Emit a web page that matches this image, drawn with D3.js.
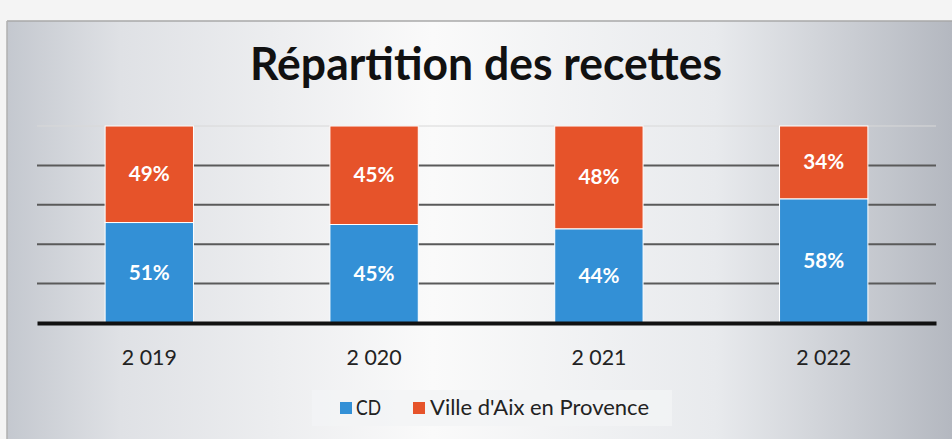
<!DOCTYPE html>
<html><head><meta charset="utf-8">
<script src="https://cdn.jsdelivr.net/npm/d3@7"></script>
<style>body{margin:0;background:#f2f2f2;}svg{display:block;}</style>
</head><body>
<svg id="c" width="952" height="439"></svg>
<script>
const years = ["2 019", "2 020", "2 021", "2 022"];
const seriesNames = ["CD", "Ville d'Aix en Provence"];
const cdValues = [51, 45, 44, 58];
const villeValues = [49, 45, 48, 34];
const yTicks = [0, 0.2, 0.4, 0.6, 0.8, 1];
const colors = ["#3390d6", "#e6532a"];

const svg = d3.select("#c");
const defs = svg.append("defs");
const g1 = defs.append("linearGradient").attr("id","bg").attr("x1","0").attr("x2","1").attr("y1","0").attr("y2","0");
g1.append("stop").attr("offset","0").attr("stop-color","#c4c8cf");
g1.append("stop").attr("offset","0.12").attr("stop-color","#dfe1e5");
g1.append("stop").attr("offset","0.45").attr("stop-color","#fafafa");
g1.append("stop").attr("offset","0.75").attr("stop-color","#e8eaed");
g1.append("stop").attr("offset","1").attr("stop-color","#b4b8c0");
svg.append("rect").attr("x",0).attr("y",0).attr("width",952).attr("height",439).attr("fill","#f4f4f4");
svg.append("rect").attr("x",7).attr("y",21).attr("width",945).attr("height",418).attr("fill","url(#bg)");
svg.append("line").attr("x1",7).attr("x2",952).attr("y1",21).attr("y2",21).attr("stroke","#a8a8a8").attr("stroke-width",1.5);
svg.append("line").attr("x1",7).attr("x2",7).attr("y1",21).attr("y2",439).attr("stroke","#b0b0b0").attr("stroke-width",1.5);

svg.append("text").attr("x",486).attr("y",80).attr("text-anchor","middle")
  .attr("font-family","Lato, 'Open Sans', sans-serif").attr("font-weight","bold").attr("font-size",45)
  .attr("fill","#111").attr("textLength",472).attr("lengthAdjust","spacingAndGlyphs")
  .text("Répartition des recettes");

const pLeft = 37, pRight = 936, pTop = 126, pBottom = 323;
const x = d3.scaleBand().domain(years).range([pLeft, pRight]).paddingInner(0.607).paddingOuter(0.303);
const y = d3.scaleLinear().domain([0,1]).range([pBottom, pTop]);

// gridlines
svg.append("g").selectAll("line").data(yTicks.slice(1)).join("line")
  .attr("x1",pLeft).attr("x2",pRight).attr("y1",d=>y(d)).attr("y2",d=>y(d))
  .attr("stroke",d=>d===1?"#d8d8d8":"#5a5a5a").attr("stroke-width",d=>d===1?1:2);

const data = years.map((yr,i)=>({year:yr, cd:cdValues[i], ville:villeValues[i]}));
const stack = d3.stack().keys(["cd","ville"]).offset(d3.stackOffsetExpand);
const layers = stack(data);

layers.forEach((layer, li) => {
  const grp = svg.append("g");
  grp.selectAll("rect").data(layer).join("rect")
    .attr("x", d=>x(d.data.year)).attr("width", x.bandwidth())
    .attr("y", d=>y(d[1])).attr("height", d=>y(d[0])-y(d[1]))
    .attr("fill", colors[li]).attr("stroke","#ffffff").attr("stroke-width",1);
  grp.selectAll("text").data(layer).join("text")
    .attr("x", d=>x(d.data.year)+x.bandwidth()/2)
    .attr("y", d=>(y(d[0])+y(d[1]))/2 + 7)
    .attr("text-anchor","middle").attr("fill","#fff")
    .attr("font-family","Lato, 'Open Sans', sans-serif").attr("font-weight","bold").attr("font-size",20)
    .attr("textLength",41).attr("lengthAdjust","spacingAndGlyphs")
    .text(d=> (li===0?d.data.cd:d.data.ville) + "%");
});

// x axis
const xAxis = svg.append("g").attr("transform",`translate(0,${pBottom})`)
  .call(d3.axisBottom(x).tickSize(0).tickPadding(27));
xAxis.select(".domain").attr("stroke","#111").attr("stroke-width",4);
xAxis.selectAll("text").attr("font-family","Lato, 'Open Sans', sans-serif").attr("font-size",21).attr("fill","#222")
  .attr("textLength",55).attr("lengthAdjust","spacingAndGlyphs");

// legend
const lg = svg.append("g");
lg.append("rect").attr("x",312).attr("y",390).attr("width",360).attr("height",36).attr("fill","#f3f4f5").attr("opacity",0.8);
const legendItems = [{name:seriesNames[0], sx:340, tx:356, w:25},{name:seriesNames[1], sx:413, tx:430, w:219}];
legendItems.forEach((it,i)=>{
  lg.append("rect").attr("x",it.sx).attr("y",402).attr("width",12).attr("height",12).attr("fill",colors[i]);
  lg.append("text").attr("x",it.tx).attr("y",415).attr("font-family","Lato, 'Open Sans', sans-serif")
    .attr("font-size",21).attr("fill","#222").attr("textLength",it.w).attr("lengthAdjust","spacingAndGlyphs").text(it.name);
});
</script>
</body></html>
